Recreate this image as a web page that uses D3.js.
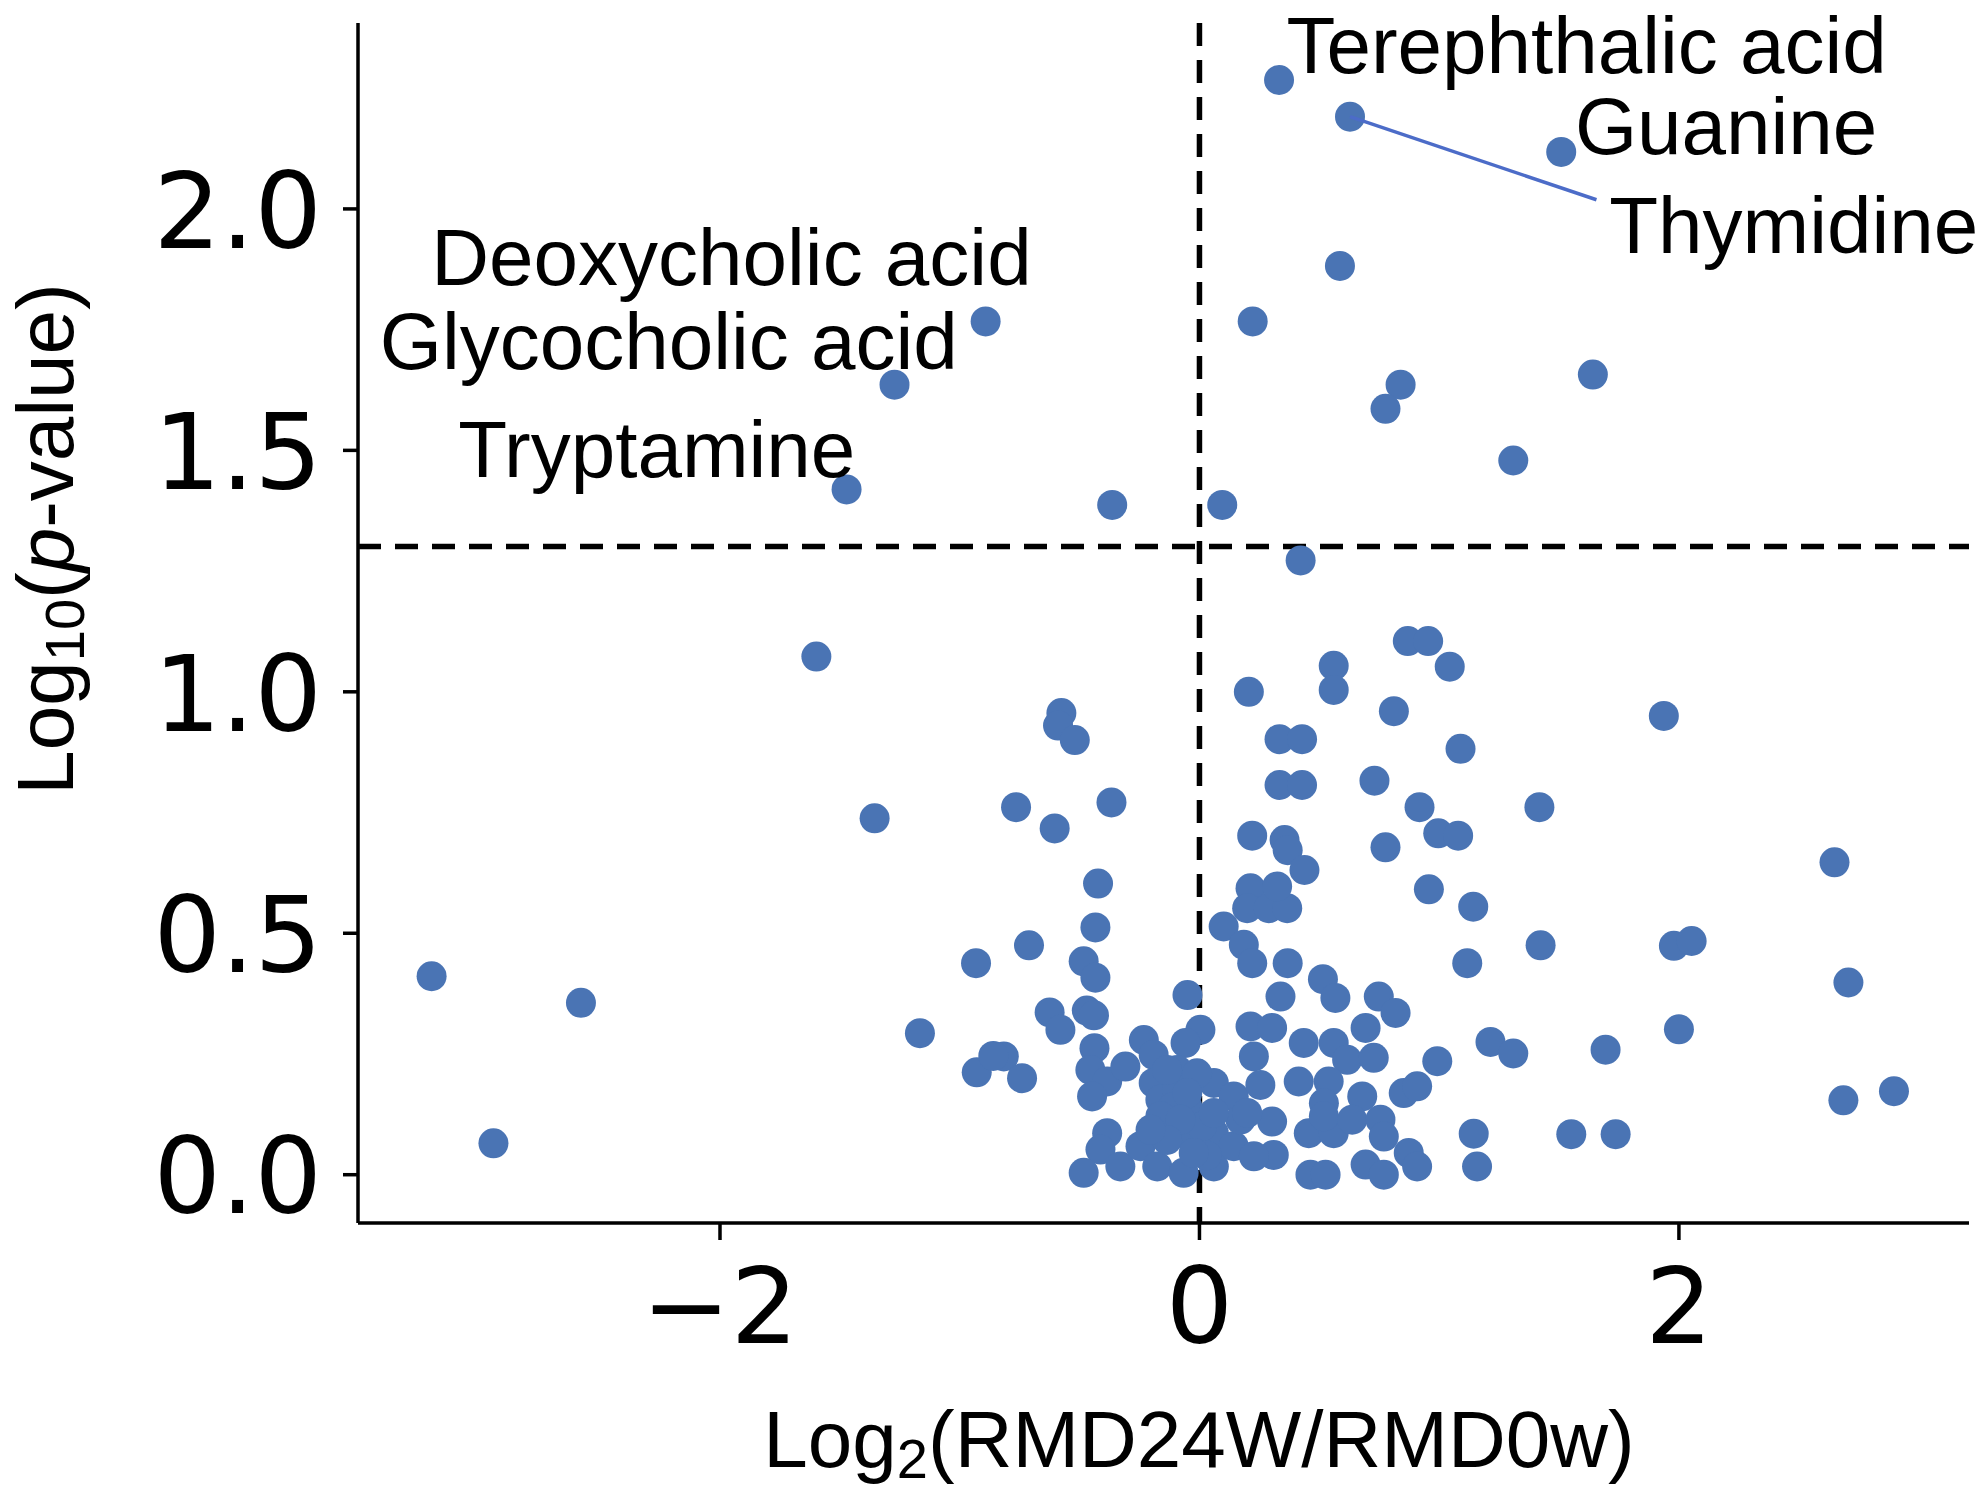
<!DOCTYPE html>
<html>
<head>
<meta charset="utf-8">
<script src="https://cdnjs.cloudflare.com/ajax/libs/d3/7.8.5/d3.min.js"></script>
<style>
  body { margin: 0; background: #fff; }
  svg { display: block; }
</style>
</head>
<body>
<div id="chart"></div>
<script>
// log2 fold change (x) and -log10 p (y)
var foldChange = [
  0.332, 0.628, 1.509, 0.586, 0.222, -0.892, -1.272, 1.641, 0.839, 0.776,
  1.309, -1.472, -0.364, 0.095, 0.422,
  -1.598, -0.576, -0.59, -0.520, -1.355, -0.765, -0.604, -0.367, -0.423, -0.434,
  -0.711, -0.932, -0.483, -0.434, -0.050,
  0.869, 0.954, 1.044, 0.560, 0.560, 0.206, 0.811, 0.334, 0.428, 1.089,
  0.334, 0.428, 0.730, 1.418, 0.918, 0.996, 1.079, 0.776, 0.220, 0.355,
  0.368, 0.438, 0.957, 1.142, 1.423, 1.117, 0.213, 0.199, 0.289, 0.366,
  0.324, 0.101, 0.185, 0.220, 0.368, 0.515,
  -0.625, -0.580, -0.47, -0.44, 0.004, -0.058, -0.816, -0.740, -0.929, -0.86,
  -0.438, -0.455, -0.385, -0.448, -0.232, -0.309, -0.191, -0.093, -0.191, -0.163,
  -0.093, -0.051, 0.060, 0.143, -0.135, -0.066, -0.385, -0.413, -0.483, -0.330,
  -0.246, -0.176, -0.066, 0.060, 0.060, 0.143, 0.171,
  -0.01, 0.01, -0.11, 0.03,
  -0.163, -0.051, -0.079, -0.135, 0.060, -0.204, -0.024, -0.135,
  0.338, 0.567, 0.748, 0.818, 0.213, 0.303, 0.693, 0.435, 0.560, 0.616,
  0.727, 0.992, 1.214, 1.309, 0.227, 0.254, 0.414, 0.539, 0.519, 0.679,
  0.852, 0.908, 0.303, 0.199, 0.456, 0.560, 0.519, 0.637, 0.755, 0.769,
  0.310, 0.227, 0.463, 0.526, 0.693, 0.769, 0.873, 0.908, 1.144, 1.158,
  1.551, 1.736, 1.937, 2.649, 1.979, 2.053, 2.707, 2.0, 1.694, 2.686, 2.897,
  -3.203, -2.580, -2.945, -1.166
];
var negLogP = [
  2.267, 2.191, 2.118, 1.882, 1.767, 1.767, 1.636, 1.657, 1.636, 1.586,
  1.479, 1.419, 1.387, 1.387, 1.272,
  1.073, 0.956, 0.930, 0.900, 0.738, 0.761, 0.717, 0.771, 0.603, 0.512,
  0.475, 0.438, 0.442, 0.408, 0.372,
  1.105, 1.105, 1.052, 1.054, 1.004, 1.000, 0.960, 0.902, 0.902, 0.882,
  0.807, 0.807, 0.816, 0.761, 0.761, 0.707, 0.702, 0.678, 0.702, 0.693,
  0.672, 0.631, 0.591, 0.555, 0.475, 0.438, 0.593, 0.552, 0.552, 0.552,
  0.597, 0.514, 0.476, 0.438, 0.438, 0.405,
  0.336, 0.300, 0.340, 0.330, 0.300, 0.273, 0.245, 0.200, 0.212, 0.246,
  0.262, 0.217, 0.193, 0.162, 0.279, 0.224, 0.248, 0.217, 0.190, 0.155,
  0.176, 0.141, 0.190, 0.162, 0.107, 0.086, 0.086, 0.052, 0.004, 0.017,
  0.059, 0.017, 0.004, 0.017, 0.086, 0.059, 0.114,
  0.21, 0.10, 0.14, 0.04,
  0.121, 0.169, 0.114, 0.072, 0.128, 0.093, 0.045, 0.217,
  0.369, 0.366, 0.369, 0.335, 0.307, 0.304, 0.304, 0.273, 0.273, 0.238,
  0.242, 0.235, 0.275, 0.251, 0.245, 0.186, 0.193, 0.193, 0.148, 0.162,
  0.169, 0.183, 0.110, 0.128, 0.086, 0.086, 0.121, 0.114, 0.114, 0.079,
  0.041, 0.038, 0.0, 0.0, 0.021, 0.0, 0.045, 0.017, 0.085, 0.017,
  0.084, 0.084, 0.950, 0.647, 0.474, 0.484, 0.398, 0.301, 0.259, 0.154, 0.173,
  0.411, 0.356, 0.065, 0.293
];

// annotated metabolites: text anchor (left, baseline) in data units
var labelNames = ["Terephthalic acid", "Guanine", "Thymidine",
                  "Deoxycholic acid", "Glycocholic acid", "Tryptamine"];
var labelX = [0.363, 1.566, 1.709, -3.204, -3.419, -3.092];
var labelY = [2.281, 2.113, 1.908, 1.843, 1.668, 1.445];

// adjustText leader line (Thymidine -> its point)
var leaderFrom = [0.628, 2.191];
var leaderTo = [1.656, 2.019];

var xTicks = [-2, 0, 2];
var yTicks = [0.0, 0.5, 1.0, 1.5, 2.0];
var pThreshold = -Math.log10(0.05);

var W = 1983, H = 1495;
var m = { left: 358, right: 1969, top: 23, bottom: 1223 };

var svg = d3.select("#chart").append("svg")
  .attr("width", W).attr("height", H);

var x = d3.scaleLinear().domain([-3.51, 3.21]).range([m.left, m.right]);
var y = d3.scaleLinear().domain([-0.1, 2.385]).range([m.bottom, m.top]);

var tickFont = "'DejaVu Sans', sans-serif";
var textFont = "'Liberation Sans', Arial, sans-serif";
var tickSize = 106;

// threshold lines
svg.append("line")
  .attr("x1", x(0)).attr("x2", x(0))
  .attr("y1", m.top).attr("y2", m.bottom)
  .attr("stroke", "#000").attr("stroke-width", 5.5)
  .attr("stroke-dasharray", "23,14");
svg.append("line")
  .attr("x1", m.left).attr("x2", m.right)
  .attr("y1", y(pThreshold)).attr("y2", y(pThreshold))
  .attr("stroke", "#000").attr("stroke-width", 5.5)
  .attr("stroke-dasharray", "23,14");

// points
var pts = foldChange.map(function (d, i) { return [d, negLogP[i]]; });
svg.append("g").selectAll("circle")
  .data(pts)
  .enter().append("circle")
    .attr("cx", function (d) { return x(d[0]); })
    .attr("cy", function (d) { return y(d[1]); })
    .attr("r", 15)
    .attr("fill", "#4a74b4");

// leader line
svg.append("line")
  .attr("x1", x(leaderFrom[0])).attr("y1", y(leaderFrom[1]))
  .attr("x2", x(leaderTo[0])).attr("y2", y(leaderTo[1]))
  .attr("stroke", "#4c6cc8").attr("stroke-width", 3.5);

// labels
svg.append("g").selectAll("text")
  .data(labelNames)
  .enter().append("text")
    .attr("x", function (d, i) { return x(labelX[i]); })
    .attr("y", function (d, i) { return y(labelY[i]); })
    .style("font-family", textFont)
    .style("font-size", "80px")
    .attr("fill", "#000")
    .text(function (d) { return d; });

// axes (only left and bottom spines)
svg.append("line")
  .attr("x1", m.left).attr("x2", m.left).attr("y1", m.top).attr("y2", m.bottom)
  .attr("stroke", "#000").attr("stroke-width", 3.5);
svg.append("line")
  .attr("x1", m.left).attr("x2", m.right).attr("y1", m.bottom).attr("y2", m.bottom)
  .attr("stroke", "#000").attr("stroke-width", 3.5);

var yAxis = svg.append("g");
yAxis.selectAll("line").data(yTicks).enter().append("line")
  .attr("x1", m.left - 15).attr("x2", m.left)
  .attr("y1", function (d) { return y(d); })
  .attr("y2", function (d) { return y(d); })
  .attr("stroke", "#000").attr("stroke-width", 3.5);
yAxis.selectAll("text").data(yTicks).enter().append("text")
  .attr("x", m.left - 36)
  .attr("y", function (d) { return y(d) + tickSize * 0.365; })
  .attr("text-anchor", "end")
  .style("font-family", tickFont)
  .style("font-size", tickSize + "px")
  .text(d3.format(".1f"));

var xAxis = svg.append("g");
xAxis.selectAll("line").data(xTicks).enter().append("line")
  .attr("x1", function (d) { return x(d); })
  .attr("x2", function (d) { return x(d); })
  .attr("y1", m.bottom).attr("y2", m.bottom + 17)
  .attr("stroke", "#000").attr("stroke-width", 3.5);
xAxis.selectAll("text").data(xTicks).enter().append("text")
  .attr("x", function (d) { return x(d); })
  .attr("y", 1343)
  .attr("text-anchor", "middle")
  .style("font-family", tickFont)
  .style("font-size", tickSize + "px")
  .text(function (d) { return d < 0 ? "\u2212" + Math.abs(d) : d; });

// axis titles
var xt = svg.append("text")
  .attr("x", 1199).attr("y", 1467)
  .attr("text-anchor", "middle")
  .style("font-family", textFont)
  .style("font-size", "80px");
xt.append("tspan").text("Log");
xt.append("tspan").attr("dy", "0.2em").style("font-size", "56px").text("2");
xt.append("tspan").attr("dy", "-0.14em").text("(RMD24W/RMD0w)");

var yt = svg.append("text")
  .attr("transform", "translate(73,539) rotate(-90)")
  .attr("text-anchor", "middle")
  .style("font-family", textFont)
  .style("font-size", "80px");
yt.append("tspan").text("Log");
yt.append("tspan").attr("dy", "0.2em").style("font-size", "56px").text("10");
yt.append("tspan").attr("dy", "-0.14em").text("(");
yt.append("tspan").style("font-style", "italic").text("p");
yt.append("tspan").text("-value)");
</script>
</body>
</html>
